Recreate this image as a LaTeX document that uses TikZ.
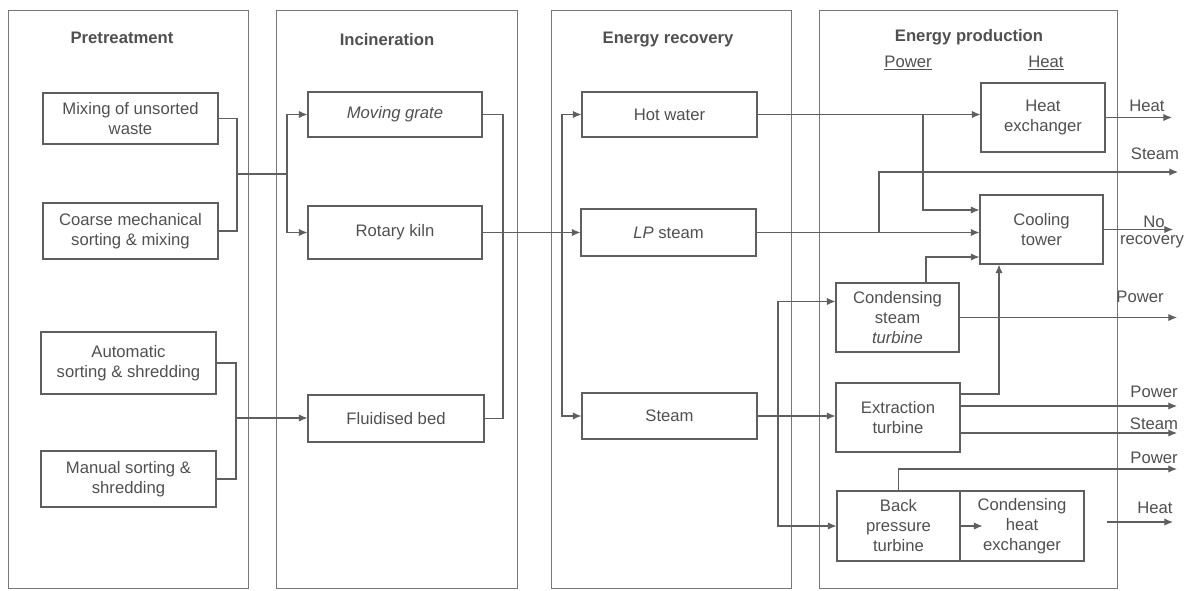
\documentclass[tikz,border=0pt]{standalone}
\usepackage{fontspec}
\setmainfont{Liberation Sans}
\usetikzlibrary{arrows.meta,calc}
\definecolor{txt}{RGB}{80,80,80}
\definecolor{ln}{RGB}{95,95,95}
\begin{document}
\begin{tikzpicture}[x=0.75pt,y=-0.75pt,
  every node/.style={text=txt,font=\fontsize{12.5}{15}\selectfont},
  box/.style 2 args={draw=ln,line width=0.8pt,rectangle,inner sep=0pt,align=center,minimum width=#1*0.75pt,minimum height=#2*0.75pt},
  title/.style={font=\fontsize{12.5}{15}\selectfont\bfseries},
  lab/.style={inner sep=0pt,align=center},
  wire/.style={draw=ln,line width=0.8pt},
  arr/.style={wire,-{Latex[length=6.5pt,width=5.5pt]}},
  panel/.style={draw=ln!85,line width=0.65pt}]
\useasboundingbox (0,0) rectangle (1192,590);
% panels
\draw[panel] (8,10) rectangle (248,588);
\draw[panel] (276,10) rectangle (517,588);
\draw[panel] (551,10) rectangle (791,588);
\draw[panel] (819,10) rectangle (1117,588);
% titles
\node[title] (t1) at (122,38) {Pretreatment};
\node[title] (t2) at (387,40) {Incineration};
\node[title] (t3) at (668,40) {Energy recovery};
\node[title] (t4) at (969,37) {Energy production};
\node (pw) at (908,63) {\underline{Power}};
\node (ht) at (1046,63) {\underline{Heat}};
% pretreatment
\node[box={175}{51}] (mix) at (130.5,118.5) {Mixing of unsorted\\waste};
\node[box={175}{56}] (coarse) at (130.5,231) {Coarse mechanical\\sorting \& mixing};
\node[box={175}{62}] (auto) at (128.5,363) {Automatic\\sorting \& shredding};
\node[box={175}{56}] (man) at (128.5,479) {Manual sorting \&\\shredding};
% incineration
\node[box={174}{45}] (mg) at (395,114.5) {\itshape Moving grate};
\node[box={174}{53}] (rk) at (395,232.5) {Rotary kiln};
\node[box={176}{47}] (fb) at (396,418.5) {Fluidised bed};
% energy recovery
\node[box={175}{45}] (hw) at (669.5,114.5) {Hot water};
\node[box={175}{47}] (lp) at (668.5,232.5) {\textit{LP} steam};
\node[box={175}{46}] (st) at (669.5,416) {Steam};
% energy production
\node[box={124}{69}] (hx) at (1043,117.5) {Heat\\exchanger};
\node[box={123}{69}] (ct) at (1041.5,229.5) {Cooling\\tower};
\node[box={123}{69}] (cs) at (897.5,317.5) {Condensing\\steam\\\textit{turbine}};
\node[box={124}{69}] (ex) at (898,417.5) {Extraction\\turbine};
\node[box={123}{70}] (bp) at (898.5,526) {Back\\pressure\\turbine};
\node[box={124}{70}] (chx) at (1022,526) {Condensing\\heat\\exchanger};
% right labels
\node[lab] (lh1) at (1147,106) {Heat};
\node[lab] (ls1) at (1155,154) {Steam};
\node[lab] (lno) at (1154,222) {No};
\node[lab] (lrec) at (1152,242) {recovery};
\node[lab] (lp1) at (1140,297) {Power};
\node[lab] (lp2) at (1154,392) {Power};
\node[lab] (ls2) at (1154,424) {Steam};
\node[lab] (lp3) at (1154,458) {Power};
\node[lab] (lh2) at (1155,508) {Heat};
% coordinates
\coordinate (j1) at (237,174);
\coordinate (s1) at (287,174);
\coordinate (j2) at (236,418);
\coordinate (c2) at (503,300);
\coordinate (c3) at (562,300);
\coordinate (c4) at (778,416);
\coordinate (hwb) at (923,114.5);
\coordinate (lpb) at (879,232.5);
\coordinate (csb) at (926,283);
\coordinate (exb) at (999,394);
\coordinate (bpb) at (898.5,491);
\coordinate (oHeat) at (1172,117.5);
\coordinate (oSteam) at (1178,172);
\coordinate (oNo) at (1173,229.5);
\coordinate (oP1) at (1177,317.5);
\coordinate (oP2) at (1177,406);
\coordinate (oS2) at (1177,433);
\coordinate (oP3) at (1177,469);
\coordinate (hS) at (1107,522);
\coordinate (oH2) at (1173,522);
% pretreatment -> incineration
\draw[wire] (mix.east) -| (j1) |- (coarse.east);
\draw[wire] (j1) -- (s1);
\draw[arr] (s1) |- (mg.west);
\draw[arr] (s1) |- (rk.west);
\draw[wire] (auto.east) -| (j2) |- (man.east);
\draw[arr] (j2) -- (j2 -| fb.west);
% incineration -> energy recovery
\draw[wire] (mg.east) -| (c2) |- (fb.east);
\draw[arr] (rk.east) -- (rk.east -| lp.west);
\draw[arr] (c3) |- (hw.west);
\draw[arr] (c3) |- (st.west);
% energy recovery -> production
\draw[arr] (hw.east) -- (hw.east -| hx.west);
\draw[arr] (hwb) |- ($(ct.west)+(0,-19.5)$);
\draw[arr] (lp.east) -- (lp.east -| ct.west);
\draw[arr] (lpb) |- (oSteam);
\draw[arr] (st.east) -- (st.east -| ex.west);
\draw[arr] (c4) |- ($(cs.north west)+(0,19)$);
\draw[arr] (c4) |- (bp.west);
% production outputs
\draw[arr] (csb) |- ($(ct.west)+(0,27.5)$);
\draw[arr] (cs.east) -- (oP1);
\draw[arr] (ex.east |- exb) -- (exb) -- (exb |- ct.south);
\draw[arr] (ex.east |- oP2) -- (oP2);
\draw[arr] (ex.east |- oS2) -- (oS2);
\draw[arr] (bpb) |- (oP3);
\draw[arr] (bp.east) -- ++(22,0);
\draw[arr] (hx.east) -- (oHeat);
\draw[arr] (ct.east) -- (oNo);
\draw[arr] (hS) -- (oH2);
\end{tikzpicture}
\end{document}
